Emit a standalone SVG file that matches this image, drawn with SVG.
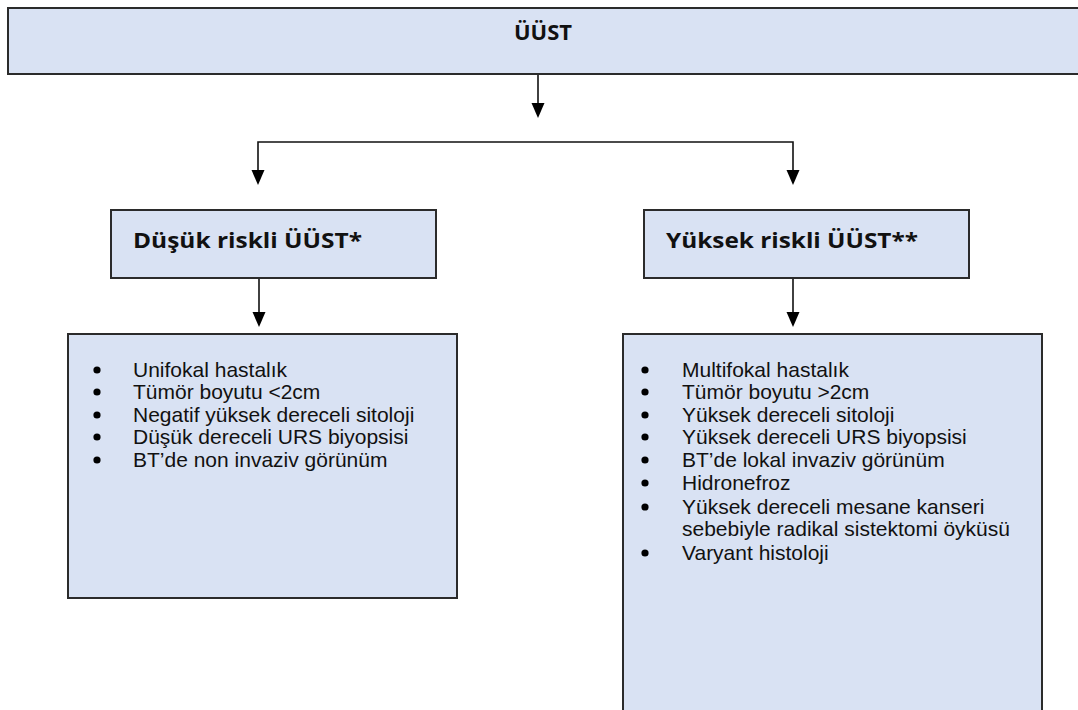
<svg xmlns="http://www.w3.org/2000/svg" width="1078" height="710" viewBox="0 0 1078 710">
<defs>
<style>
.box{fill:#d9e2f3;stroke:#2b2b2b;stroke-width:2}
.title{font-family:"Open Sans","Liberation Sans",sans-serif;font-weight:bold;fill:#111}
.item{font-family:"Liberation Sans",Arial,sans-serif;font-size:21px;fill:#111}
.conn{stroke:#111;stroke-width:1.6;fill:none}
.head{fill:#000}
.dot{fill:#000}
</style>
</defs>
<rect width="1078" height="710" fill="#fff"/>
<g id="connectors">
<line class="conn" x1="538" y1="75" x2="538" y2="105"/>
<polyline class="conn" points="258,172 258,142 793,142 793,172"/>
<line class="conn" x1="259" y1="279" x2="259" y2="314"/>
<line class="conn" x1="793" y1="279" x2="793" y2="314"/>
<path class="head" d="M531.5,103 L544.5,103 L538,118 Z"/>
<path class="head" d="M251.5,170 L264.5,170 L258,185 Z"/>
<path class="head" d="M786.5,170 L799.5,170 L793,185 Z"/>
<path class="head" d="M252.5,312 L265.5,312 L259,327 Z"/>
<path class="head" d="M786.5,312 L799.5,312 L793,327 Z"/>
</g>
<g id="top">
<rect class="box" x="8" y="8" width="1080" height="66"/>
<text class="title" x="543" y="40" text-anchor="middle" style="font-size:22px" textLength="58" lengthAdjust="spacingAndGlyphs">ÜÜST</text>
</g>
<g id="low-risk">
<rect class="box" x="111" y="210" width="325" height="68"/>
<text class="title" x="133" y="248" style="font-size:22px" textLength="229" lengthAdjust="spacingAndGlyphs">Düşük riskli ÜÜST*</text>
</g>
<g id="high-risk">
<rect class="box" x="644" y="210" width="325" height="68"/>
<text class="title" x="666" y="248" style="font-size:22px" textLength="252" lengthAdjust="spacingAndGlyphs">Yüksek riskli ÜÜST**</text>
</g>
<g id="low-list">
<rect class="box" x="68" y="334" width="389" height="264"/>
<circle class="dot" cx="97" cy="370" r="3.6"/>
<circle class="dot" cx="97" cy="392" r="3.6"/>
<circle class="dot" cx="97" cy="415" r="3.6"/>
<circle class="dot" cx="97" cy="437" r="3.6"/>
<circle class="dot" cx="97" cy="460" r="3.6"/>
<text class="item" x="133" y="377">Unifokal hastalık</text>
<text class="item" x="133" y="399">Tümör boyutu &lt;2cm</text>
<text class="item" x="133" y="422">Negatif yüksek dereceli sitoloji</text>
<text class="item" x="133" y="444">Düşük dereceli URS biyopsisi</text>
<text class="item" x="133" y="467">BT’de non invaziv görünüm</text>
</g>
<g id="high-list">
<rect class="box" x="623" y="334" width="419" height="390"/>
<circle class="dot" cx="645" cy="370" r="3.6"/>
<circle class="dot" cx="645" cy="392" r="3.6"/>
<circle class="dot" cx="645" cy="415" r="3.6"/>
<circle class="dot" cx="645" cy="437" r="3.6"/>
<circle class="dot" cx="645" cy="460" r="3.6"/>
<circle class="dot" cx="645" cy="483" r="3.6"/>
<circle class="dot" cx="645" cy="507" r="3.6"/>
<circle class="dot" cx="645" cy="553" r="3.6"/>
<text class="item" x="682" y="377">Multifokal hastalık</text>
<text class="item" x="682" y="399">Tümör boyutu &gt;2cm</text>
<text class="item" x="682" y="422">Yüksek dereceli sitoloji</text>
<text class="item" x="682" y="444">Yüksek dereceli URS biyopsisi</text>
<text class="item" x="682" y="467">BT’de lokal invaziv görünüm</text>
<text class="item" x="682" y="490">Hidronefroz</text>
<text class="item" x="682" y="514">Yüksek dereceli mesane kanseri</text>
<text class="item" x="682" y="536">sebebiyle radikal sistektomi öyküsü</text>
<text class="item" x="682" y="560">Varyant histoloji</text>
</g>
</svg>
